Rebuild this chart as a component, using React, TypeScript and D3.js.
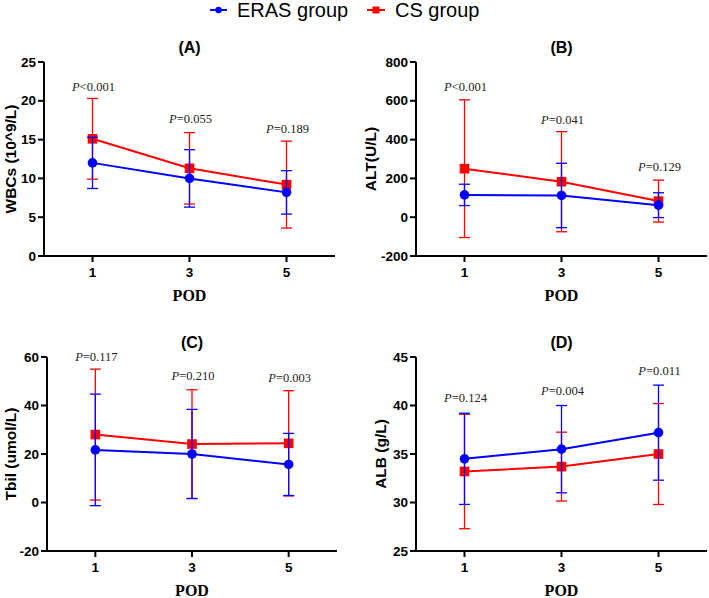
import React from "react";
import * as d3 from "d3";

const PODS = [1, 3, 5];
const GROUPS = ["ERAS group", "CS group"];

// Panel A: WBCs
const A_ERAS_MEAN = [12.0, 10.0, 8.2];
const A_ERAS_SD = [3.3, 3.7, 2.8];
const A_CS_MEAN = [15.1, 11.3, 9.2];
const A_CS_SD = [5.2, 4.6, 5.6];
const A_P = ["<0.001", "=0.055", "=0.189"];
const A_P_Y = [21.3, 17.1, 15.9];
const A_TICKS = [0, 5, 10, 15, 20, 25];

// Panel B: ALT
const B_ERAS_MEAN = [115, 112, 62];
const B_ERAS_SD = [55, 166, 64];
const B_CS_MEAN = [250, 183, 83];
const B_CS_SD = [355, 258, 108];
const B_P = ["<0.001", "=0.041", "=0.129"];
const B_P_Y = [652, 480, 240];
const B_TICKS = [-200, 0, 200, 400, 600, 800];

// Panel C: Tbil
const C_ERAS_MEAN = [21.7, 20.0, 15.7];
const C_ERAS_SD = [23.0, 18.4, 12.8];
const C_CS_MEAN = [28.0, 24.1, 24.4];
const C_CS_SD = [27.0, 22.4, 21.7];
const C_P = ["=0.117", "=0.210", "=0.003"];
const C_P_Y = [58.3, 50.4, 49.6];
const C_TICKS = [-20, 0, 20, 40, 60];

// Panel D: ALB
const D_ERAS_MEAN = [34.5, 35.5, 37.2];
const D_ERAS_SD = [4.7, 4.5, 4.9];
const D_CS_MEAN = [33.2, 33.7, 35.0];
const D_CS_SD = [5.9, 3.55, 5.2];
const D_P = ["=0.124", "=0.004", "=0.011"];
const D_P_Y = [40.4, 41.1, 43.1];
const D_TICKS = [25, 30, 35, 40, 45];

const BLUE = "#0000ff";
const RED = "#ff0000";
const SANS = "'Liberation Sans', Arial, sans-serif";
const SERIF = "'Liberation Serif', 'Times New Roman', serif";

type PanelProps = {
  title: string;
  ylabel: string;
  ticks: number[];
  erasMean: number[];
  erasSd: number[];
  csMean: number[];
  csSd: number[];
  pText: string[];
  pY: number[];
  x0: number;
  y0: number;
  w: number;
  h: number;
  labelX: number;
};

function Series({ mean, sd, color, kind, x, y }: any) {
  const line = d3
    .line<number>()
    .x((_, i) => x(PODS[i]))
    .y((d) => y(d));
  return (
    <g>
      {mean.map((m: number, i: number) => {
        const cx = x(PODS[i]);
        const top = y(m + sd[i]);
        const bot = y(m - sd[i]);
        return (
          <g key={i} stroke={color} strokeWidth={1.3}>
            <line x1={cx} x2={cx} y1={top} y2={bot} />
            <line x1={cx - 5.5} x2={cx + 5.5} y1={top} y2={top} />
            <line x1={cx - 5.5} x2={cx + 5.5} y1={bot} y2={bot} />
          </g>
        );
      })}
      <path d={line(mean) || ""} fill="none" stroke={color} strokeWidth={2} />
      {mean.map((m: number, i: number) =>
        kind === "circle" ? (
          <circle key={i} cx={x(PODS[i])} cy={y(m)} r={4.8} fill={color} />
        ) : (
          <rect key={i} x={x(PODS[i]) - 4.8} y={y(m) - 4.8} width={9.6} height={9.6} fill={color} />
        )
      )}
    </g>
  );
}

function Panel(p: PanelProps) {
  const x = d3.scaleLinear().domain([0, 6]).range([p.x0, p.x0 + p.w]);
  const dom = d3.extent(p.ticks) as [number, number];
  const y = d3.scaleLinear().domain(dom).range([p.y0 + p.h, p.y0]);
  const bottom = p.y0 + p.h;
  return (
    <g>
      <text
        x={p.x0 + p.w / 2}
        y={p.y0 - 9}
        textAnchor="middle"
        fontFamily={SANS}
        fontWeight="bold"
        fontSize={16}
      >
        {p.title}
      </text>
      <text
        transform={`translate(${p.labelX},${p.y0 + p.h / 2}) rotate(-90)`}
        textAnchor="middle"
        dominantBaseline="central"
        fontFamily={SANS}
        fontWeight="bold"
        fontSize={15.5}
      >
        {p.ylabel}
      </text>
      {/* y axis */}
      <line x1={p.x0} x2={p.x0} y1={p.y0} y2={bottom + 1} stroke="#000" strokeWidth={2} />
      {p.ticks.map((t) => (
        <g key={t}>
          <line x1={p.x0 - 6} x2={p.x0} y1={y(t)} y2={y(t)} stroke="#000" strokeWidth={2} />
          <text
            x={p.x0 - 8}
            y={y(t)}
            textAnchor="end"
            dominantBaseline="central"
            fontFamily={SANS}
            fontWeight="bold"
            fontSize={13.5}
          >
            {t}
          </text>
        </g>
      ))}
      {/* x axis */}
      <line x1={p.x0 - 1} x2={p.x0 + p.w} y1={bottom} y2={bottom} stroke="#000" strokeWidth={2} />
      {PODS.map((d) => (
        <g key={d}>
          <line x1={x(d)} x2={x(d)} y1={bottom} y2={bottom + 6} stroke="#000" strokeWidth={2} />
          <text
            x={x(d)}
            y={bottom + 21}
            textAnchor="middle"
            fontFamily={SANS}
            fontWeight="bold"
            fontSize={13.5}
          >
            {d}
          </text>
        </g>
      ))}
      <text
        x={p.x0 + p.w / 2}
        y={bottom + 45}
        textAnchor="middle"
        fontFamily={SERIF}
        fontWeight="bold"
        fontSize={16}
      >
        POD
      </text>
      <Series mean={p.csMean} sd={p.csSd} color={RED} kind="square" x={x} y={y} />
      <Series mean={p.erasMean} sd={p.erasSd} color={BLUE} kind="circle" x={x} y={y} />
      {p.pText.map((t, i) => (
        <text
          key={i}
          x={x(PODS[i]) + 1}
          y={y(p.pY[i])}
          textAnchor="middle"
          fontFamily={SERIF}
          fontSize={12.5}
          fill="#222"
        >
          <tspan fontStyle="italic">P</tspan>
          {t}
        </text>
      ))}
    </g>
  );
}

export default function App() {
  return (
    <svg
      width={709}
      height={598}
      style={{ position: "absolute", left: 0, top: 0, background: "#fff" }}
    >
      <rect width={709} height={598} fill="#fff" />
      {/* legend */}
      <g>
        <line x1={210} x2={227} y1={10} y2={10} stroke={BLUE} strokeWidth={2} />
        <circle cx={218.5} cy={10} r={3.2} fill={BLUE} />
        <text x={237} y={17} fontFamily={SANS} fontSize={20}>
          {GROUPS[0]}
        </text>
        <line x1={367} x2={385} y1={10} y2={10} stroke={RED} strokeWidth={2} />
        <rect x={372.5} y={6.5} width={7} height={7} fill={RED} />
        <text x={395} y={17} fontFamily={SANS} fontSize={20}>
          {GROUPS[1]}
        </text>
      </g>
      <Panel
        title="(A)"
        ylabel="WBCs (10^9/L)"
        ticks={A_TICKS}
        erasMean={A_ERAS_MEAN}
        erasSd={A_ERAS_SD}
        csMean={A_CS_MEAN}
        csSd={A_CS_SD}
        pText={A_P}
        pY={A_P_Y}
        x0={44}
        y0={62}
        w={291}
        h={194}
        labelX={10}
      />
      <Panel
        title="(B)"
        ylabel="ALT(U/L)"
        ticks={B_TICKS}
        erasMean={B_ERAS_MEAN}
        erasSd={B_ERAS_SD}
        csMean={B_CS_MEAN}
        csSd={B_CS_SD}
        pText={B_P}
        pY={B_P_Y}
        x0={416}
        y0={62}
        w={291}
        h={194}
        labelX={370}
      />
      <Panel
        title="(C)"
        ylabel="Tbil (umol/L)"
        ticks={C_TICKS}
        erasMean={C_ERAS_MEAN}
        erasSd={C_ERAS_SD}
        csMean={C_CS_MEAN}
        csSd={C_CS_SD}
        pText={C_P}
        pY={C_P_Y}
        x0={47}
        y0={357}
        w={290}
        h={194}
        labelX={10}
      />
      <Panel
        title="(D)"
        ylabel="ALB (g/L)"
        ticks={D_TICKS}
        erasMean={D_ERAS_MEAN}
        erasSd={D_ERAS_SD}
        csMean={D_CS_MEAN}
        csSd={D_CS_SD}
        pText={D_P}
        pY={D_P_Y}
        x0={416}
        y0={357}
        w={291}
        h={194}
        labelX={380}
      />
    </svg>
  );
}
